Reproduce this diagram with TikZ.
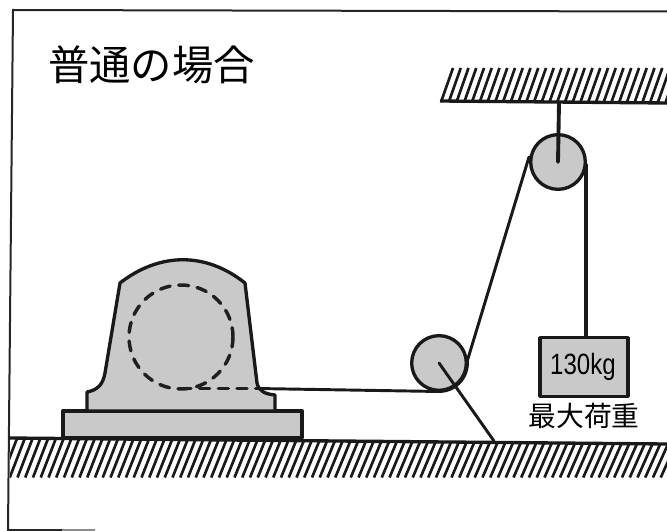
\documentclass[tikz,border=0pt]{standalone}
\usepackage{fontspec}
\usepackage{graphicx}
\newfontfamily\cjk{Noto Sans CJK JP}
\newfontfamily\latn{Liberation Sans}
\tikzset{
  ink/.style={draw=black!90,line width=2.5pt,line join=round},
  thinrope/.style={draw=black!90,line width=2.2pt,line cap=round},
  plumbrope/.style={draw=black!90,line width=2.9pt,line cap=round},
  body/.style={ink,fill=black!21},
  hatchline/.style={draw=black!90,line width=2pt},
  frameline/.style={draw=black!85,line width=1.5pt},
  bearing/.style={draw=black!88,line width=2.6pt,dash pattern=on 7.5pt off 6.5pt,line cap=round},
  title/.style={font=\cjk\fontsize{31}{31}\selectfont,inner sep=0pt},
  label/.style={font=\cjk\fontsize{20.8}{21}\selectfont,inner sep=0pt},
  wheel/.style={circle,ink,fill=black!21,minimum size=41pt,inner sep=0pt}
}
\begin{document}
\begin{tikzpicture}[x=0.75pt,y=-0.75pt]
\useasboundingbox (0,0) rectangle (667,531);
\fill[white] (0,0) rectangle (667,531);
% frame
\coordinate (tl) at (13,10);
\coordinate (tr) at (667,11.5);
\coordinate (bl) at (8,530);
\coordinate (br) at (62,530);
\draw[frameline] (tr) -- (tl) -- (bl) -- (br);
\draw[draw=black!45,line width=1.2pt] (br) -- (95,530);
% ground and hatching
\begin{scope}
\clip (10,436) rectangle (667,480);
\foreach \i in {0,...,86}{
  \pgfmathsetmacro{\xa}{2+\i*7.75}
  \pgfmathsetmacro{\ya}{438.5+\xa*0.0085}
  \draw[hatchline] (\xa+15,\ya) -- (\xa,477.5);
}
\end{scope}
\draw[ink] (9,438) -- (667,444);
% ceiling hatching
\begin{scope}
\clip (440,66) rectangle (667,104);
\foreach \i in {0,...,30}{
  \pgfmathsetmacro{\xa}{441+\i*7.75}
  \draw[hatchline] (\xa+12,68) -- (\xa,102);
}
\end{scope}
\draw[ink] (440,101) -- (667,103);
% base and bearing housing
\draw[body] (63,411) -- (302,411) -- (302,438) -- (63,438) -- cycle;
\draw[body] (87,411) -- (87,392) .. controls (98,390) and (103,384) .. (105,373)
  -- (120,283) .. controls (160,252) and (206,252) .. (245,283)
  -- (257,383) .. controls (259,392) and (266,394) .. (275,395) -- (275,411) -- cycle;
\draw[bearing] (181,337) circle (52);
\draw[bearing] (181,388.5) -- (257,388.5);
% pulleys
\node[wheel] (low) at (439,363) {};
\node[wheel] (high) at (558,162) {};
% ropes
\coordinate (hook) at (559,103);
\coordinate (anchor) at (494,441);
\coordinate (startrope) at (257,388.5);
\coordinate (highleft) at (529,157);
\coordinate (highright) at (586,165);
\coordinate (loadtop) at (586,337);
\draw[plumbrope] (hook) -- (high.center);
\draw[thinrope] (low.center) -- (anchor);
\draw[thinrope] (startrope) -- (439,391.5) arc[start angle=90,end angle=-5,radius=28.5] -- (highleft);
\draw[plumbrope] (highright) -- (loadtop);
% weight
\node[body,minimum width=66pt,minimum height=44pt,inner sep=0pt] (load) at (584,367) {};
\node[inner sep=0pt] (loadtext) at (583,367) {\scalebox{0.82}[1]{\latn\fontsize{22}{22}\selectfont 130kg}};
\node[label] (caption) at (584,416) {最大荷重};
\node[title] (heading) at (151.5,65) {普通の場合};
\end{tikzpicture}
\end{document}
